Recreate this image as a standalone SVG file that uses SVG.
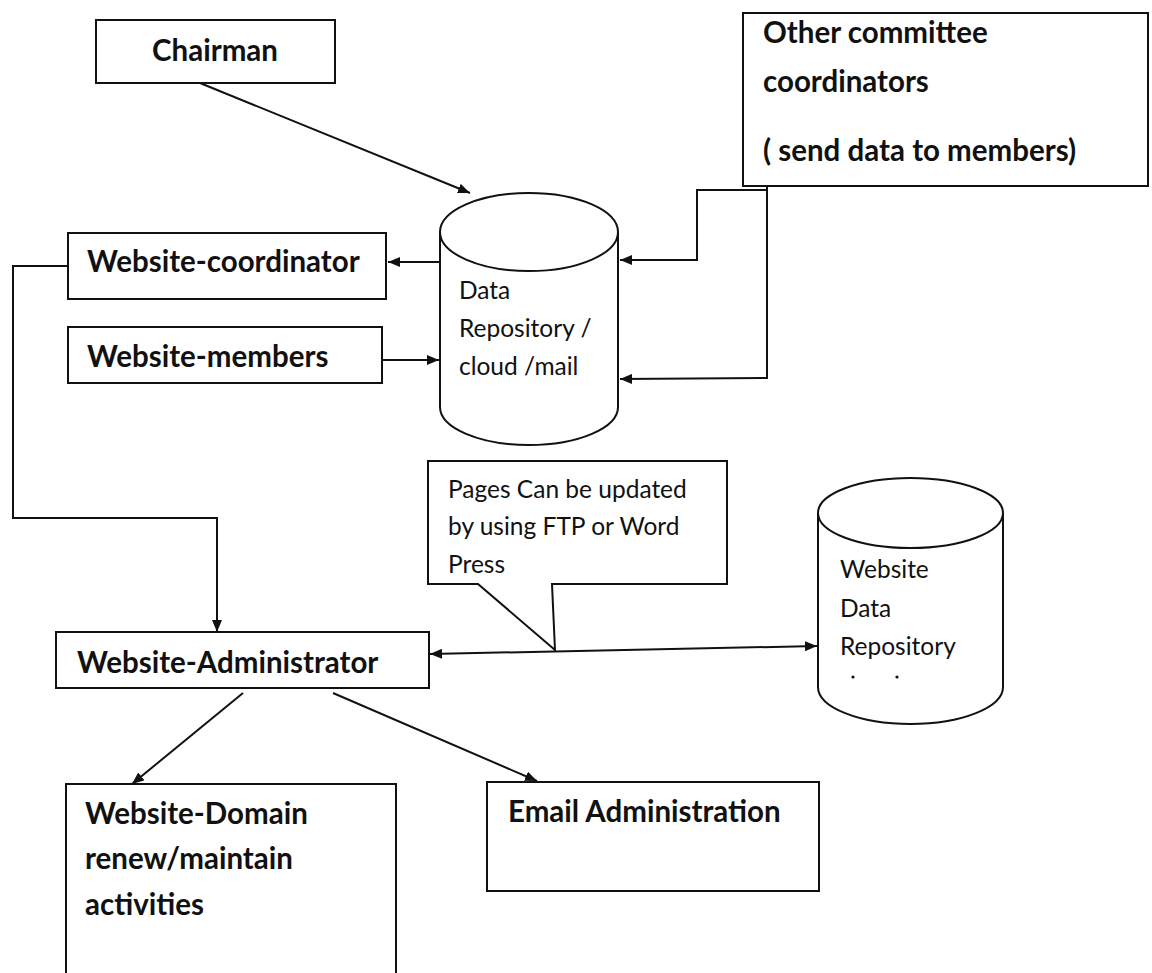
<svg xmlns="http://www.w3.org/2000/svg" width="1152" height="973" viewBox="0 0 1152 973">
<defs>
<style>
.box{fill:#fff;stroke:#111;stroke-width:2}
.ln{fill:none;stroke:#111;stroke-width:2}
.b{font-family:Lato,"Liberation Sans",sans-serif;font-weight:bold;font-size:29.5px;fill:#111}
.r{font-family:Lato,"Liberation Sans",sans-serif;font-size:24.5px;fill:#111}
</style>
<marker id="ah" viewBox="0 0 12 10" refX="12" refY="5" markerWidth="12" markerHeight="10" markerUnits="userSpaceOnUse" orient="auto-start-reverse"><path d="M0,0 L12,5 L0,10 z" fill="#111"/></marker>
</defs>
<rect width="1152" height="973" fill="#fff"/>
<g id="connectors">
<line class="ln" x1="200" y1="83" x2="470" y2="193" marker-end="url(#ah)"/>
<polyline class="ln" points="767,190 697,190 697,260 620,260" marker-end="url(#ah)"/>
<polyline class="ln" points="767,186 767,378 620,379" marker-end="url(#ah)"/>
<line class="ln" x1="445" y1="262" x2="388" y2="262" marker-end="url(#ah)"/>
<line class="ln" x1="383" y1="360" x2="439" y2="360" marker-end="url(#ah)"/>
<polyline class="ln" points="68,266 13,266 13,518 217,518 217,632" marker-end="url(#ah)"/>
<line class="ln" x1="430" y1="654" x2="817" y2="646" marker-start="url(#ah)" marker-end="url(#ah)"/>
<line class="ln" x1="243" y1="693" x2="132" y2="784" marker-end="url(#ah)"/>
<line class="ln" x1="333" y1="693" x2="537" y2="781" marker-end="url(#ah)"/>
</g>
<g id="chairman"><rect class="box" x="96" y="20" width="239" height="63"/><text class="b" x="215" y="61" text-anchor="middle">Chairman</text></g>
<g id="other-committee"><rect class="box" x="743" y="13" width="405" height="173"/>
<text class="b" x="763" y="43">Other committee</text>
<text class="b" x="763" y="92">coordinators</text>
<text class="b" x="763" y="161">( send data to members)</text></g>
<g id="data-repository">
<path class="box" d="M440,232 L440,407 A89,38 0 0 0 618,407 L618,232"/>
<ellipse class="box" cx="529" cy="232" rx="89" ry="39"/>
<text class="r" x="459" y="299">Data</text>
<text class="r" x="459" y="337">Repository /</text>
<text class="r" x="459" y="375">cloud  /mail</text></g>
<g id="website-coordinator"><rect class="box" x="68" y="233" width="318" height="66"/><text class="b" x="87" y="272">Website-coordinator</text></g>
<g id="website-members"><rect class="box" x="68" y="327" width="314" height="56"/><text class="b" x="87" y="367">Website-members</text></g>
<g id="callout"><path class="box" d="M428,461 L727,461 L727,584 L552,584 L555,650 L478,584 L428,584 Z"/>
<text class="r" x="448" y="498">Pages Can be updated</text>
<text class="r" x="448" y="535">by using FTP or Word</text>
<text class="r" x="448" y="573">Press</text></g>
<g id="website-administrator"><rect class="box" x="56" y="632" width="373" height="56"/><text class="b" x="77" y="673">Website-Administrator</text></g>
<g id="website-data-repository">
<path class="box" d="M818,513 L818,687 A92.5,37 0 0 0 1003,687 L1003,513"/>
<ellipse class="box" cx="910.5" cy="513" rx="92.5" ry="35"/>
<text class="r" x="840" y="578">Website</text>
<text class="r" x="840" y="617">Data</text>
<text class="r" x="840" y="655">Repository</text>
<circle cx="853" cy="677" r="1.6" fill="#111"/><circle cx="897" cy="677" r="1.6" fill="#111"/></g>
<g id="website-domain"><rect class="box" x="66" y="784" width="330" height="200"/>
<text class="b" x="85" y="824">Website-Domain</text>
<text class="b" x="85" y="869">renew/maintain</text>
<text class="b" x="85" y="915">activities</text></g>
<g id="email-administration"><rect class="box" x="487" y="782" width="332" height="109"/><text class="b" x="508" y="822">Email Administration</text></g>
</svg>
